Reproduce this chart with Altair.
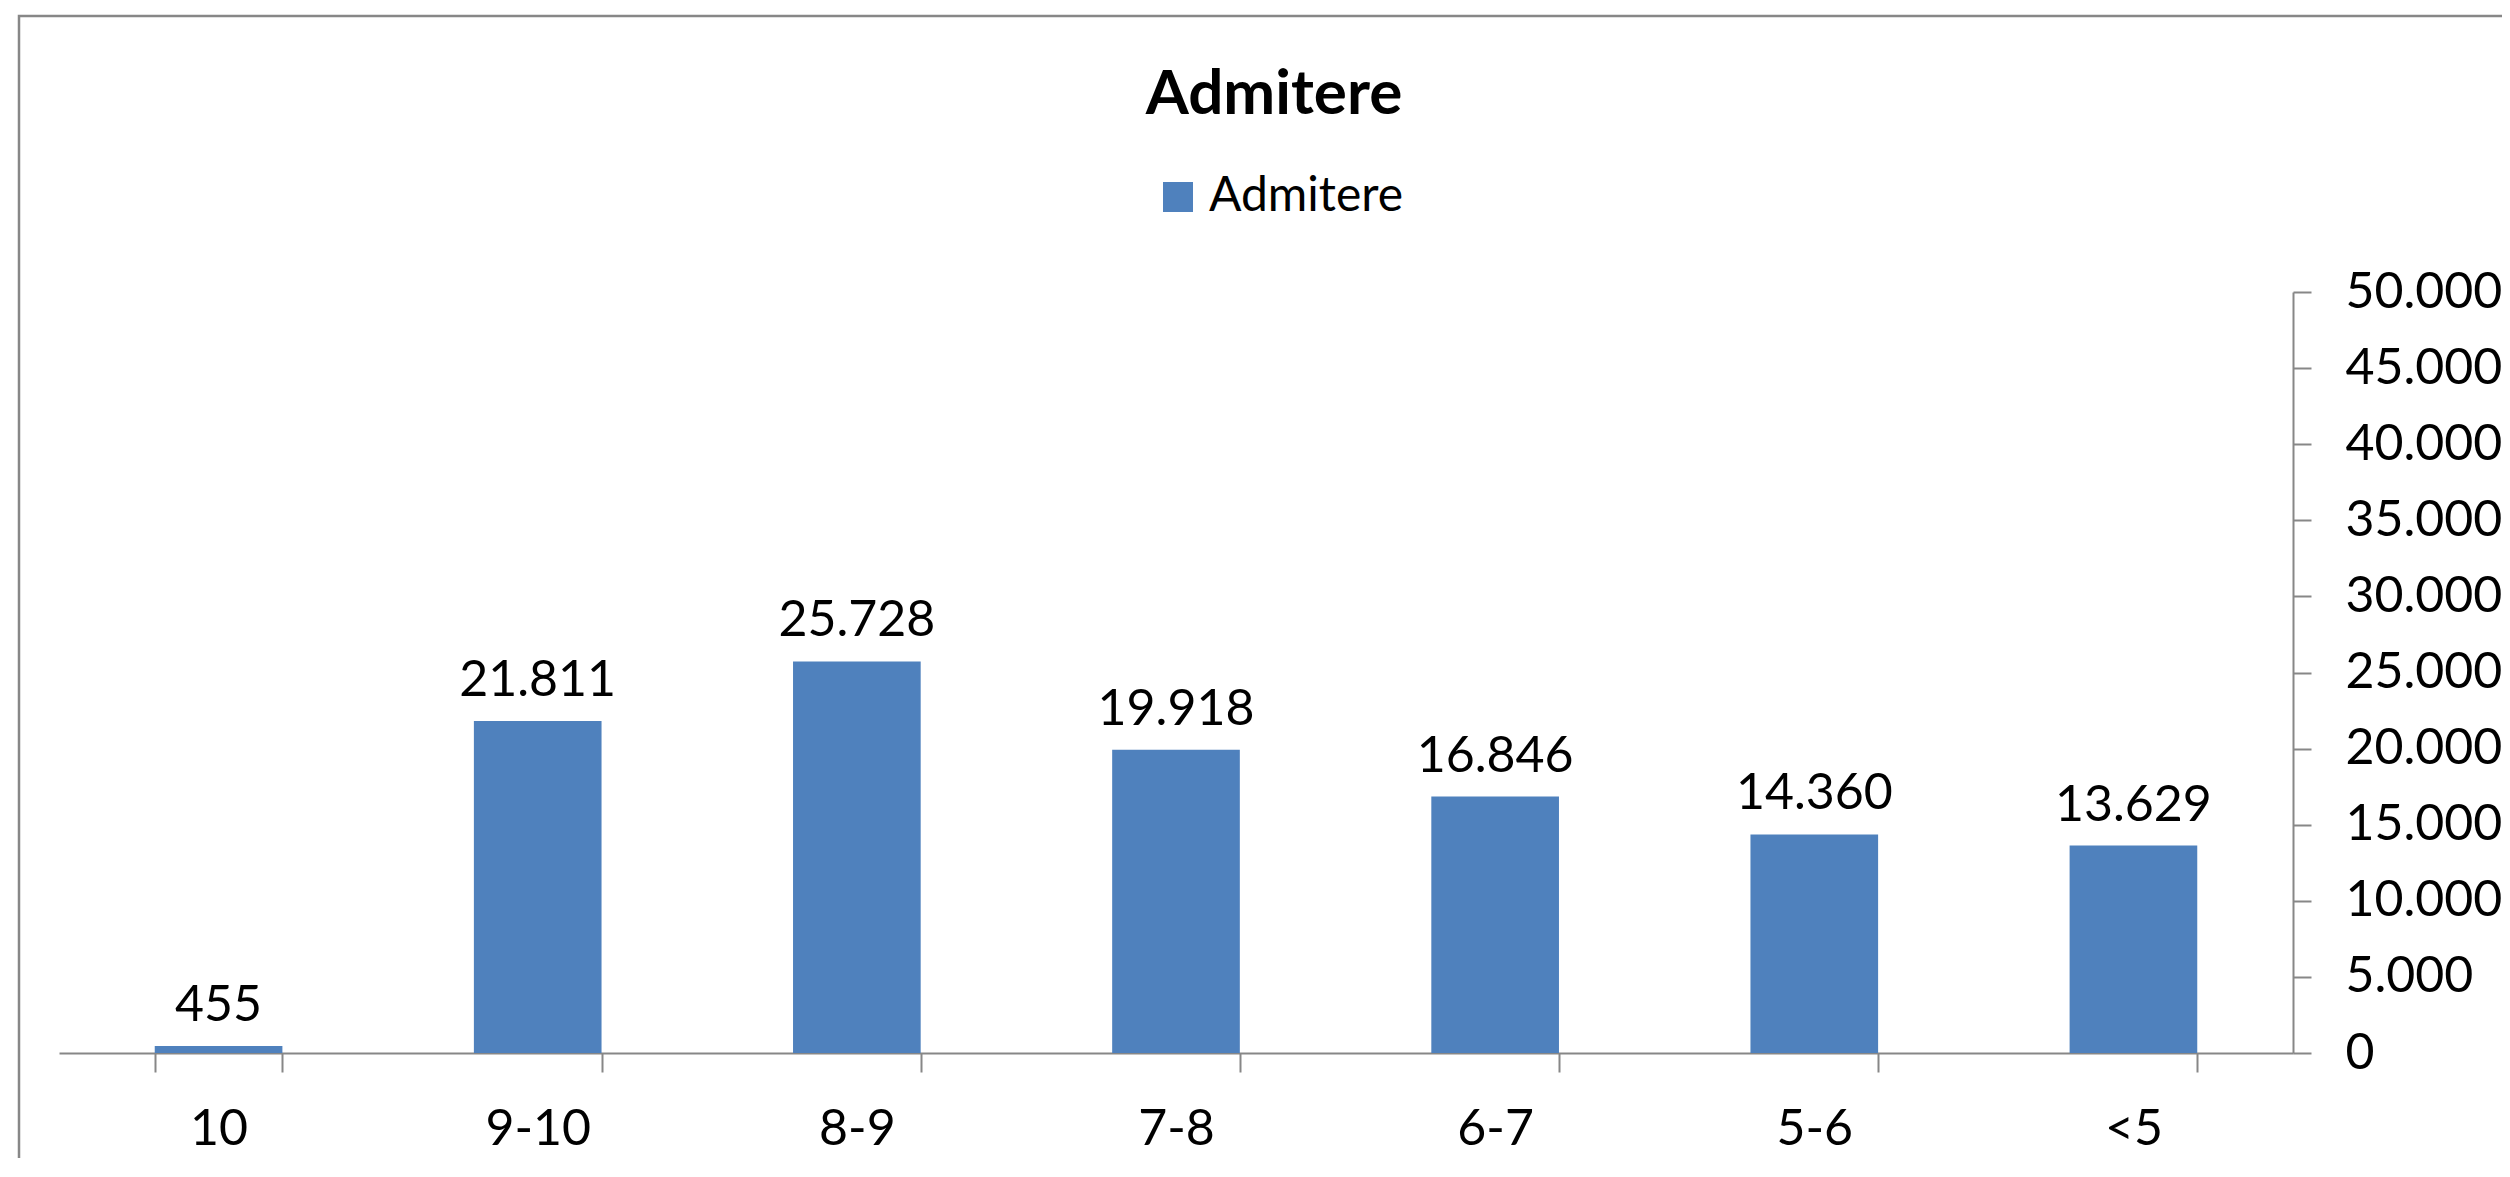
import altair as alt
import pandas as pd

categories = ["10", "9-10", "8-9", "7-8", "6-7", "5-6", "<5"]
values = [455, 21811, 25728, 19918, 16846, 14360, 13629]
series_name = "Admitere"
y_ticks = [0, 5000, 10000, 15000, 20000, 25000, 30000, 35000, 40000, 45000, 50000]

df = pd.DataFrame({"category": categories, "value": values, "series": [series_name] * len(categories)})

FONT = "Lato"
AXIS_GRAY = "#878787"
BAR_BLUE = "#4F81BD"
num_fmt = "replace(format(datum.value, ','), ',', '.')"

base = alt.Chart(df)

bars = base.mark_bar(color=BAR_BLUE).encode(
    x=alt.X(
        "category:N",
        sort=categories,
        scale=alt.Scale(paddingInner=0.6, paddingOuter=0.3),
        axis=alt.Axis(
            title=None,
            orient="bottom",
            labelAngle=0,
            tickBand="extent",
            tickSize=19,
            tickWidth=2,
            tickColor=AXIS_GRAY,
            domainColor=AXIS_GRAY,
            domainWidth=2,
            labelPadding=32,
            labelFont=FONT,
            labelFontSize=50,
            labelColor="black",
            grid=False,
        ),
    ),
    y=alt.Y(
        "value:Q",
        scale=alt.Scale(domain=[0, 50000], nice=False),
        axis=alt.Axis(
            title=None,
            orient="right",
            values=y_ticks,
            labelExpr=num_fmt,
            tickSize=18,
            tickWidth=2,
            tickColor=AXIS_GRAY,
            domainColor=AXIS_GRAY,
            domainWidth=2,
            labelPadding=34,
            labelFont=FONT,
            labelFontSize=50,
            labelColor="black",
            labelAlign="left",
            grid=False,
        ),
    ),
    color=alt.Color(
        "series:N",
        scale=alt.Scale(range=[BAR_BLUE]),
        legend=alt.Legend(
            title=None,
            orient="none",
            legendX=1095,
            legendY=-119,
            symbolType="square",
            symbolSize=900,
            symbolStrokeWidth=0,
            labelFont=FONT,
            labelFontSize=48,
            labelColor="black",
            labelOffset=7,
            labelLimit=500,
            padding=0,
        ),
    ),
)

labels = base.transform_calculate(label=num_fmt).mark_text(
    font=FONT, fontSize=50, color="black", baseline="alphabetic", dy=-25
).encode(
    x=alt.X("category:N", sort=categories),
    y=alt.Y("value:Q"),
    text="label:N",
)

frame = alt.Chart(alt.Data(values=[{}])).mark_rect(
    filled=False, stroke=AXIS_GRAY, strokeWidth=2.5
).encode(
    x=alt.value(-40), x2=alt.value(2600), y=alt.value(-276), y2=alt.value(1300)
)

chart = (
    alt.layer(frame, bars, labels)
    .properties(
        width=2234,
        height=761,
        title=alt.TitleParams(
            text="Admitere",
            font=FONT,
            fontSize=62,
            fontWeight="bold",
            color="black",
            anchor="middle",
            dx=98,
            offset=-161,
            baseline="alphabetic",
        ),
        autosize=alt.AutoSizeParams(type="none"),
        padding={"left": 51, "top": 284, "right": 209, "bottom": 105},
    )
    .configure(background="white")
    .configure_view(stroke="transparent", strokeWidth=0)
)

chart.save("out.html", embed_options={"renderer": "svg", "actions": False})
